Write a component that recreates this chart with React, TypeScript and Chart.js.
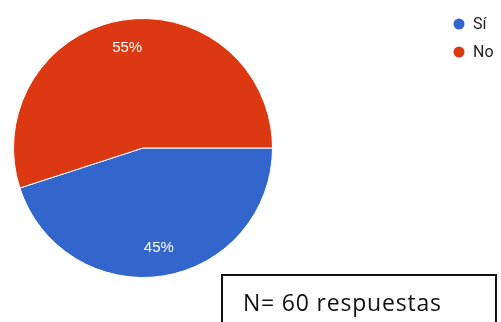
import React, { useEffect, useRef } from "react";
import { Chart, registerables } from "chart.js";

Chart.register(...registerables);

const categories = ["Sí", "No"];
const responses = [27, 33];
const colors = ["#3366cc", "#dc3912"];
const noteText = "N= 60 respuestas";

const sliceLabels = {
  id: "sliceLabels",
  afterDatasetsDraw(chart: any) {
    const ctx = chart.ctx;
    const meta = chart.getDatasetMeta(0);
    const data = chart.data.datasets[0].data as number[];
    const total = data.reduce((a, b) => a + b, 0);
    ctx.save();
    ctx.fillStyle = "#ffffff";
    ctx.font = "15px 'Liberation Sans', Arial, sans-serif";
    ctx.textAlign = "center";
    ctx.textBaseline = "middle";
    meta.data.forEach((arc: any, i: number) => {
      const p = arc.getProps(["x", "y", "startAngle", "endAngle", "outerRadius"], true);
      const mid = (p.startAngle + p.endAngle) / 2;
      const r = p.outerRadius * 0.78;
      const pct = Math.round((data[i] / total) * 100) + "%";
      ctx.fillText(pct, p.x + Math.cos(mid) * r, p.y + Math.sin(mid) * r);
    });
    ctx.restore();
  },
};

const sideLegend = {
  id: "sideLegend",
  afterDraw(chart: any) {
    const ctx = chart.ctx;
    const labels = chart.data.labels as string[];
    const bg = chart.data.datasets[0].backgroundColor as string[];
    const x = chart.width - 42;
    ctx.save();
    ctx.font = "16px Roboto, 'Liberation Sans', sans-serif";
    ctx.textBaseline = "middle";
    ctx.textAlign = "left";
    labels.forEach((lab, i) => {
      const y = 24 + i * 28;
      ctx.beginPath();
      ctx.fillStyle = bg[i];
      ctx.arc(x, y, 5.5, 0, Math.PI * 2);
      ctx.fill();
      ctx.fillStyle = "#222222";
      ctx.fillText(lab, x + 14, y + 1);
    });
    ctx.restore();
  },
};

export default function App() {
  const ref = useRef<HTMLCanvasElement | null>(null);
  useEffect(() => {
    if (!ref.current) return;
    const chart = new Chart(ref.current, {
      type: "pie",
      data: {
        labels: categories,
        datasets: [
          {
            data: responses,
            backgroundColor: colors,
            borderColor: "#ffffff",
            borderWidth: 1,
          },
        ],
      },
      options: {
        responsive: false,
        animation: false,
        rotation: 90,
        layout: { padding: { left: 13, top: 18, right: 228, bottom: 44 } },
        plugins: {
          legend: { display: false },
          tooltip: { enabled: false },
        },
      },
      plugins: [sliceLabels, sideLegend],
    });
    return () => chart.destroy();
  }, []);

  return (
    <div style={{ position: "absolute", left: 0, top: 0, width: 501, height: 322, overflow: "hidden", background: "#fff" }}>
      <canvas ref={ref} width={501} height={322} style={{ display: "block" }} />
      <div
        style={{
          position: "absolute",
          left: 221,
          top: 274,
          width: 276,
          height: 80,
          border: "2px solid #111",
          boxSizing: "border-box",
          fontFamily: "'Open Sans', sans-serif",
          fontSize: 23,
          letterSpacing: "0.8px",
          color: "#111",
          paddingLeft: 20,
          paddingTop: 11,
          lineHeight: "30px",
          whiteSpace: "nowrap",
        }}
      >
        {noteText}
      </div>
    </div>
  );
}
